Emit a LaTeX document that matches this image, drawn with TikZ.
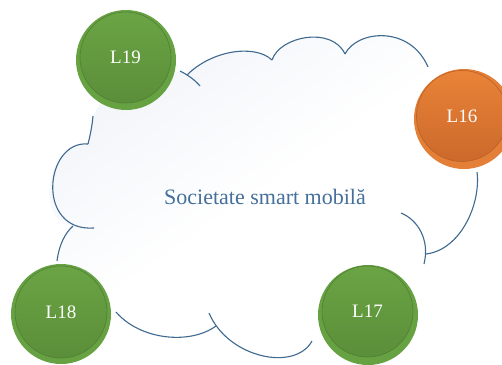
\documentclass[tikz,border=0pt]{standalone}
\usepackage{fontspec}
\setmainfont{Liberation Serif}
\definecolor{cloudline}{HTML}{3E6990}
\definecolor{cloudtint}{HTML}{F1F4F9}
\definecolor{captionblue}{HTML}{44709B}
\definecolor{greenring}{HTML}{66A142}
\definecolor{greentop}{HTML}{6AA444}
\definecolor{greenbot}{HTML}{5B8E39}
\definecolor{greenedge}{HTML}{517F36}
\definecolor{orangering}{HTML}{E47F37}
\definecolor{orangetop}{HTML}{E98338}
\definecolor{orangebot}{HTML}{CC692B}
\definecolor{orangeedge}{HTML}{B86129}

\tikzset{
  cloudstroke/.style={draw=cloudline,line width=1.1pt},
  badge/.style={circle,inner sep=0pt,minimum size=91pt,line width=0.6pt,text=white,font=\fontsize{19}{22}\selectfont},
  greenbadge/.style={badge,draw=greenedge,top color=greentop,bottom color=greenbot},
  orangebadge/.style={badge,draw=orangeedge,top color=orangetop,bottom color=orangebot},
}

\begin{document}
\begin{tikzpicture}[x=1pt,y=-1pt]
\path[use as bounding box] (0,0) rectangle (502.0,364.0);
% cloud body
\path[top color=cloudtint,bottom color=white,middle color=white,shading angle=35] (88,144) .. controls (45,140) and (35,225) .. (73,226) .. controls (65,233) and (59,245) .. (57,261) -- (61,312) -- (116,312) .. controls (140,340) and (190,345) .. (216,326) .. controls (240,362) and (295,372) .. (312,341) -- (368,315) -- (424,264) -- (426,254) .. controls (460,250) and (481,205) .. (477,172) -- (464,119) -- (428,67) .. controls (410,25) and (357,30) .. (345,54) .. controls (332,26) and (280,36) .. (272,60) .. controls (255,44) and (212,50) .. (187,74) -- (126,60) -- (93,116) -- cycle;
% cloud outline
\draw[cloudstroke] (93,116) .. controls (92,127) and (90,136) .. (88,144);
\draw[cloudstroke] (88,144) .. controls (45,140) and (35,232) .. (94,228);
\draw[cloudstroke] (57,261) .. controls (59,245) and (65,233) .. (73,226);
\draw[cloudstroke] (180,71) .. controls (188,75) and (195,80) .. (200,86);
\draw[cloudstroke] (187,75) .. controls (212,50) and (255,44) .. (272,60);
\draw[cloudstroke] (272,60) .. controls (280,36) and (332,26) .. (345,54);
\draw[cloudstroke] (345,54) .. controls (357,30) and (410,25) .. (428,67);
\draw[cloudstroke] (477,172) .. controls (481,205) and (460,250) .. (426,254);
\draw[cloudstroke] (401,213) .. controls (418,220) and (430,240) .. (424,264);
\draw[cloudstroke] (209,313) .. controls (228,358) and (295,372) .. (312,341);
\draw[cloudstroke] (116,312) .. controls (140,340) and (190,345) .. (216,326);
\node[text=captionblue,font=\fontsize{22}{26}\selectfont] (society) at (265,197) {Societate smart mobilă};
% badges
\fill[greenring] (126,60) circle (50);
\node[greenbadge] (l19) at (125.5,57.5) {L19};
\fill[orangering] (464,119) circle (50);
\node[orangebadge] (l16) at (462,116) {L16};
\fill[greenring] (61,314) circle (50);
\node[greenbadge,minimum size=92pt] (l18) at (61,312) {L18};
\fill[greenring] (368,315) circle (50);
\node[greenbadge] (l17) at (367.5,311.5) {L17};
\end{tikzpicture}
\end{document}
